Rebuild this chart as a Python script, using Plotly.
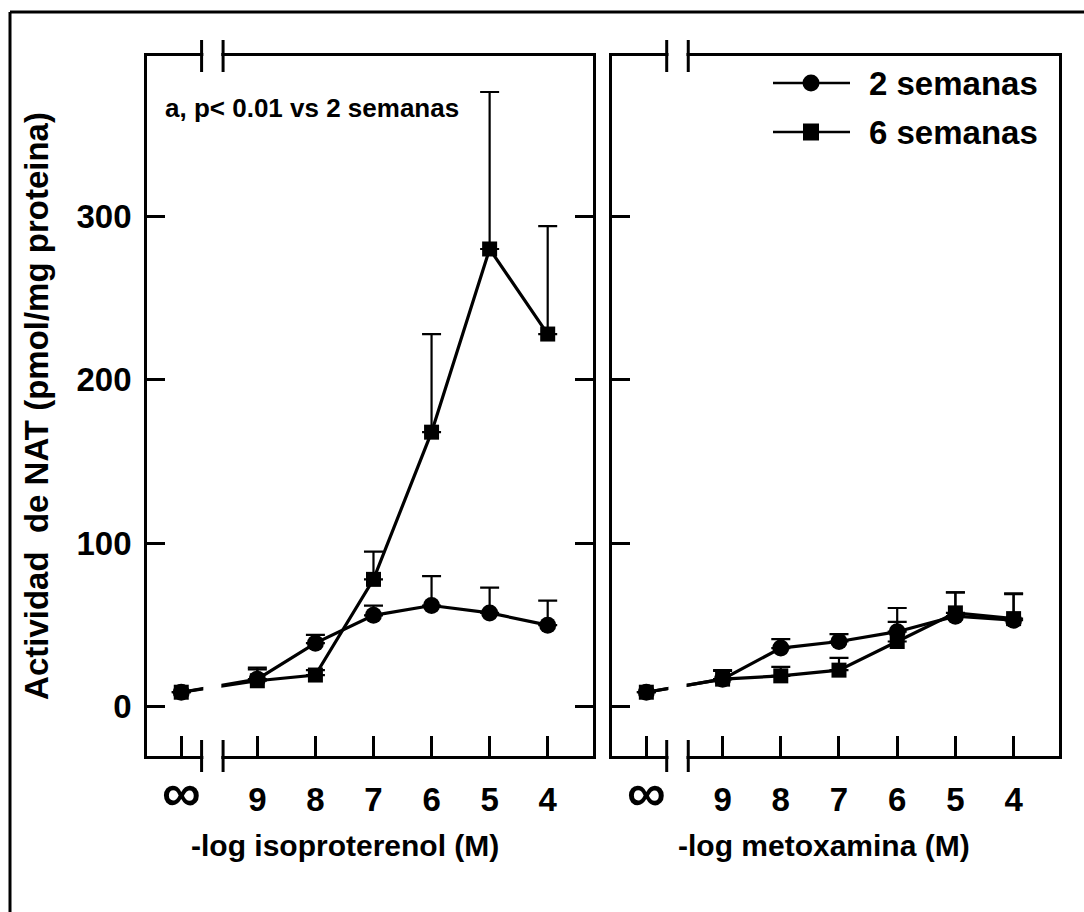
import plotly.graph_objects as go

# ---- data -------------------------------------------------------------
tick_labels = ["<span style='font-size:54px'>∞</span>", "9", "8", "7", "6", "5", "4"]
neg_log_conc = [9, 8, 7, 6, 5, 4]          # -log [agonist] (M)
CONTROL_POS = 10.31                        # where the "∞" (no drug) column sits

iso_2sem = [9, 17, 39, 56, 62, 57.5, 50]
iso_2sem_err = [0, 6, 5, 6, 18, 15.5, 15]
iso_6sem = [9, 16, 19.5, 78, 168, 280, 228]
iso_6sem_err = [0, 8, 3, 17, 60, 96, 66]

met_2sem = [9, 17, 36, 40, 46, 55.5, 53]
met_2sem_err = [0, 5, 5.5, 4.5, 14.5, 14.5, 16]
met_6sem = [9, 17, 19, 22.5, 40, 57.5, 54]
met_6sem_err = [0, 5.5, 5.5, 7.5, 12, 12.5, 15.5]

series_names = ["2 semanas", "6 semanas"]
x_titles = ["-log isoproterenol (M)", "-log metoxamina (M)"]
y_title = "Actividad  de NAT (pmol/mg proteina)"
note = "a, p< 0.01 vs 2 semanas"
y_ticks = [0, 100, 200, 300]

# ---- style ------------------------------------------------------------
FONT = "Liberation Sans, Arial, Helvetica, sans-serif"
W, H = 1084, 912
X_RANGE = [10.9, 3.22]          # reversed: high -log conc on the left
Y_RANGE = [-30, 398]
X1_DOM = [147 / W, 593 / W]
X2_DOM = [612 / W, 1059 / W]
Y_DOM = [1 - 756 / H, 1 - 56 / H]
BREAK = (9.96, 9.59)            # axis-break marks between ∞ and 9

x_pos = [CONTROL_POS] + neg_log_conc


def px(v):
    return v / W


def py(v):
    return 1 - v / H


fig = go.Figure()


def add_series(xaxis, yaxis, yvals, errs, symbol, size):
    fig.add_trace(go.Scatter(
        x=x_pos, y=yvals, xaxis=xaxis, yaxis=yaxis,
        mode="lines+markers",
        line=dict(color="black", width=3.2),
        marker=dict(symbol=symbol, size=size, color="black"),
        error_y=dict(type="data", array=errs, arrayminus=[0] * len(errs),
                     symmetric=False, width=9.5, thickness=2.2, color="black"),
        showlegend=False, hoverinfo="skip",
    ))


add_series("x", "y", iso_2sem, iso_2sem_err, "circle", 17)
add_series("x", "y", iso_6sem, iso_6sem_err, "square", 15)
add_series("x2", "y2", met_2sem, met_2sem_err, "circle", 17)
add_series("x2", "y2", met_6sem, met_6sem_err, "square", 15)

tick_font = dict(family=FONT, size=33, color="black", weight="bold")
xcommon = dict(
    range=X_RANGE, tickvals=x_pos, ticktext=tick_labels,
    ticks="inside", ticklen=20, tickwidth=2.5, tickcolor="black",
    showline=True, linecolor="black", linewidth=2.8, mirror=True,
    showgrid=False, zeroline=False, tickfont=tick_font,
    ticklabelstandoff=12,
)
ycommon = dict(
    range=Y_RANGE, domain=Y_DOM, tickvals=y_ticks,
    ticks="inside", ticklen=18, tickwidth=2.5, tickcolor="black",
    showline=True, linecolor="black", linewidth=2.8,
    showgrid=False, zeroline=False, tickfont=tick_font,
)

fig.update_layout(
    width=W, height=H,
    margin=dict(l=0, r=0, t=0, b=0),
    paper_bgcolor="white", plot_bgcolor="white",
    showlegend=False,
    xaxis=dict(xcommon, domain=X1_DOM, anchor="y"),
    xaxis2=dict(xcommon, domain=X2_DOM, anchor="y2"),
    yaxis=dict(ycommon, anchor="x", mirror="ticks", ticklabelstandoff=6,
               title=dict(text=y_title,
                          font=dict(family=FONT, size=33, color="black", weight="bold"),
                          standoff=18)),
    yaxis2=dict(ycommon, anchor="x2", mirror=True, showticklabels=False),
)

shapes = []
# axis breaks: blank out the gap, then draw the double marks on both spines
for xr in ("x", "x2"):
    shapes.append(dict(type="rect", xref=xr, yref="paper",
                       x0=BREAK[0] - 0.03, x1=BREAK[1] + 0.03,
                       y0=Y_DOM[0] - 0.006, y1=Y_DOM[1] + 0.006,
                       fillcolor="white", line=dict(width=0), layer="above"))
    for bx in BREAK:
        for yc in Y_DOM:
            shapes.append(dict(type="line", xref=xr, yref="paper",
                               x0=bx, x1=bx, y0=yc - 16 / H, y1=yc + 16 / H,
                               line=dict(color="black", width=3), layer="above"))

# outer frame (left and top edges)
shapes.append(dict(type="line", xref="paper", yref="paper",
                   x0=px(10), x1=px(10), y0=0, y1=py(12),
                   line=dict(color="black", width=3)))
shapes.append(dict(type="line", xref="paper", yref="paper",
                   x0=px(10), x1=1, y0=py(12), y1=py(12),
                   line=dict(color="black", width=3)))

# legend keys in the upper right of the second panel
legend_rows = [83, 132]
for name, row, kind in zip(series_names, legend_rows, ["circle", "square"]):
    shapes.append(dict(type="line", xref="paper", yref="paper",
                       x0=px(773), x1=px(850), y0=py(row), y1=py(row),
                       line=dict(color="black", width=2.5)))
    if kind == "circle":
        shapes.append(dict(type="circle", xref="paper", yref="paper",
                           x0=px(811 - 8.5), x1=px(811 + 8.5),
                           y0=py(row + 8.5), y1=py(row - 8.5),
                           fillcolor="black", line=dict(width=0)))
    else:
        shapes.append(dict(type="rect", xref="paper", yref="paper",
                           x0=px(811 - 8), x1=px(811 + 8),
                           y0=py(row + 8.5), y1=py(row - 8.5),
                           fillcolor="black", line=dict(width=0)))

annotations = []
for name, row in zip(series_names, legend_rows):
    annotations.append(dict(text=name, xref="paper", yref="paper",
                            x=px(867), y=py(row), xanchor="left", yanchor="middle",
                            showarrow=False,
                            font=dict(family=FONT, size=33, color="black", weight="bold")))

annotations.append(dict(text=note, xref="paper", yref="paper",
                        x=px(163), y=py(108), xanchor="left", yanchor="middle",
                        showarrow=False,
                        font=dict(family=FONT, size=26, color="black", weight="bold")))

# x-axis titles under each panel
for text, cx in zip(x_titles, [345, 824]):
    annotations.append(dict(text=text, xref="paper", yref="paper",
                            x=px(cx), y=py(845), xanchor="center", yanchor="middle",
                            showarrow=False,
                            font=dict(family=FONT, size=30, color="black", weight="bold")))

fig.update_layout(shapes=shapes, annotations=annotations)

fig.write_html("out.html")
